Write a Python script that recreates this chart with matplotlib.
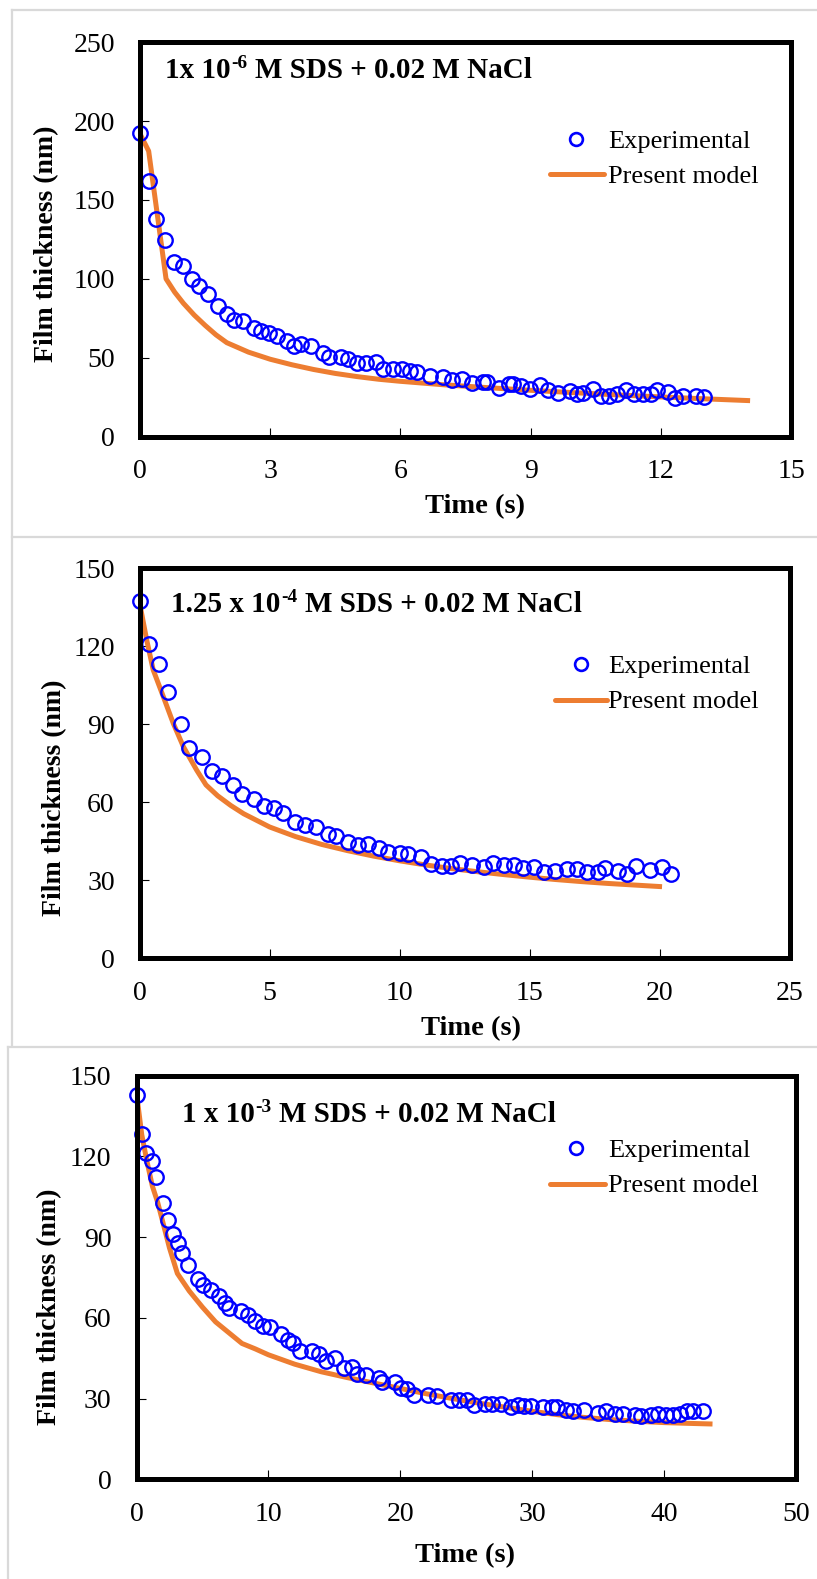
import matplotlib
matplotlib.use("Agg")
import matplotlib.pyplot as plt
from matplotlib.lines import Line2D

plt.rcParams['font.family'] = ['Liberation Serif', 'DejaVu Serif']

# ---------------- data ----------------
# Panel 1: 1x10^-6 M SDS + 0.02 M NaCl
t1 = [0, 0.21, 0.38, 0.58, 0.78, 0.98, 1.19, 1.36, 1.56, 1.8, 2.0, 2.17, 2.38, 2.62, 2.79,
      2.98, 3.16, 3.39, 3.55, 3.72, 3.94, 4.22, 4.36, 4.62, 4.8, 5.01, 5.2, 5.44, 5.6, 5.84,
      6.03, 6.22, 6.39, 6.68, 6.99, 7.2, 7.41, 7.64, 7.9, 8.0, 8.27, 8.5, 8.59, 8.77, 8.98,
      9.21, 9.39, 9.64, 9.9, 10.07, 10.2, 10.43, 10.62, 10.8, 10.98, 11.2, 11.38, 11.59, 11.77,
      11.92, 12.16, 12.33, 12.51, 12.81, 13.0]
h1 = [192.3, 162.3, 137.9, 124.4, 110.4, 107.9, 99.9, 95.3, 90.4, 83, 78, 73.8, 73.1, 68.9, 66.8,
      65.8, 63.6, 60.5, 57.7, 58.4, 57.7, 53.1, 50.6, 50.6, 48.9, 46.8, 46.8, 47.4, 43, 43,
      42.6, 41.5, 40.9, 38.3, 37.7, 35.8, 36.7, 33.7, 34.3, 34.3, 30.6, 33.6, 33, 32.1, 30.1,
      32.7, 29.3, 27.5, 28.6, 26.7, 27.3, 29.9, 26.0, 25.6, 27.1, 29.7, 26.7, 27.1, 27.1,
      29.3, 28.2, 24.5, 26.0, 25.6, 24.9]
tm1 = [0, 0.2, 0.6, 0.8, 1.0, 1.25, 1.5, 1.75, 2.0, 2.5, 3.0, 3.5, 4.0, 4.5, 5.0, 5.5, 6.0,
       7.0, 8.0, 9.0, 10.0, 11.0, 12.0, 13.0, 14.0]
hm1 = [192, 181, 100, 91.5, 84.5, 77, 70.5, 64.5, 59.5, 53.5, 49, 45.5, 42.5, 40, 38, 36.3, 35,
       32.8, 31, 29.3, 27.8, 26.4, 25.1, 23.9, 22.8]

# Panel 2: 1.25x10^-4 M SDS + 0.02 M NaCl
t2 = [0, 0.36, 0.76, 1.1, 1.58, 1.9, 2.39, 2.79, 3.15, 3.59, 3.95, 4.39, 4.79, 5.15, 5.51,
      5.99, 6.36, 6.8, 7.26, 7.56, 8.02, 8.4, 8.8, 9.2, 9.56, 10.02, 10.34, 10.83, 11.19, 11.63,
      11.97, 12.33, 12.79, 13.23, 13.59, 14.0, 14.4, 14.74, 15.18, 15.56, 15.98, 16.44, 16.82,
      17.22, 17.62, 17.92, 18.4, 18.75, 19.09, 19.65, 20.09, 20.43]
h2 = [137.4, 120.7, 113, 102.4, 90, 81, 77.6, 72, 70.2, 66.6, 63.2, 61.3, 58.5, 57.7, 55.9,
      52.6, 51.3, 50.4, 47.8, 47.2, 44.6, 43.6, 44, 42.3, 40.7, 40.4, 40.1, 39.1, 36.2, 35.6,
      35.6, 36.5, 35.9, 35.3, 36.6, 35.9, 36, 34.7, 35, 33, 33.4, 34.3, 34.3,
      33, 33, 34.7, 33.7, 32.4, 35.6, 34.1, 35, 32.6]
tm2 = [0, 0.27, 0.52, 0.91, 1.29, 1.68, 2.19, 2.55, 3.0, 3.5, 4.0, 5.0, 6.0, 7.0, 8.0, 9.0,
       10.0, 11.0, 12.0, 13.0, 14.0, 15.0, 16.0, 17.0, 18.0, 19.0, 20.0]
hm2 = [136.5, 122.4, 110.9, 100.6, 90.4, 81.4, 72.4, 66.7, 62.5, 58.8, 55.6, 50.5, 46.8, 43.8,
       41.4, 39.3, 37.5, 35.9, 34.5, 33.3, 32.2, 31.2, 30.3, 29.5, 28.8, 28.2, 27.6]

# Panel 3: 1x10^-3 M SDS + 0.02 M NaCl
t3 = [0, 0.40, 0.71, 1.19, 1.50, 1.98, 2.37, 2.77, 3.16, 3.48, 3.87, 4.66, 5.06, 5.65, 6.25,
      6.72, 7.04, 7.94, 8.42, 9.01, 9.61, 10.12, 10.99, 11.5, 11.86, 12.37, 13.28, 13.83, 14.35,
      15.06, 15.73, 16.32, 16.72, 17.43, 18.38, 18.62, 19.57, 20.08, 20.55, 21.07, 22.13, 22.77,
      23.83, 24.43, 25.1, 25.61, 26.4, 27.0, 27.67, 28.38, 28.97, 29.37, 29.96, 30.83, 31.54,
      31.86, 32.61, 33.12, 33.91, 35.02, 35.61, 36.28, 36.88, 37.79, 38.26, 39.05, 39.53, 40.16,
      40.71, 41.23, 41.74, 42.21, 43.0]
h3 = [142.8, 128.4, 121.3, 118.1, 112.5, 102.8, 96.4, 91.3, 87.7, 84.2, 79.7, 74.4, 72.2, 70.5,
      68.1, 65.5, 63.5, 62.5, 60.9, 58.9, 57, 56.7, 53.9, 51.6, 50.5, 47.7, 47.7, 46.4, 44.1,
      45.1, 41.2, 41.9, 39.3, 38.9, 37.6, 36.1, 36.1, 34.1, 33.5, 31.2, 31.5, 30.9,
      29.6, 29.6, 29.6, 27.7, 28.1, 28.1, 28.1, 27.0, 27.7, 27.4, 27.3, 26.8, 27.0,
      26.8, 25.7, 25.3, 25.7, 24.7, 25.3, 24.4, 24.4, 24.0, 23.5, 24.0, 24.2, 24.0,
      24.0, 24.2, 25.3, 25.3, 25.3]
tm3 = [0, 0.4, 0.8, 1.2, 1.6, 2.0, 2.5, 3.1, 4, 5, 6, 7, 8, 9, 10, 12, 14, 16, 18, 20, 22, 24,
       26, 28, 30, 32, 34, 36, 38, 40, 42, 43.5]
hm3 = [143.5, 128, 118, 109, 103, 95.5, 86, 76.5, 70, 64, 58.5, 54.5, 50.5, 48.5, 46.3, 42.8,
       40, 37.8, 35.8, 33.8, 31.8, 30, 28.3, 26.8, 25.3, 24, 23, 22.2, 21.6, 21.1, 20.8, 20.6]

xticks1 = [0, 3, 6, 9, 12, 15]
yticks1 = [0, 50, 100, 150, 200, 250]
xticks2 = [0, 5, 10, 15, 20, 25]
yticks2 = [0, 30, 60, 90, 120, 150]
xticks3 = [0, 10, 20, 30, 40, 50]
yticks3 = [0, 30, 60, 90, 120, 150]

title_pre = ["1x 10", "1.25 x 10", "1 x 10"]
title_sup = ["-6", "-4", "-3"]
title_post = ["M SDS + 0.02 M NaCl"] * 3
xlabel = "Time (s)"
ylabel = "Film thickness (nm)"
leg_labels = ["Experimental", "Present model"]

# ---------------- layout ----------------
W, H = 817, 1579
fig = plt.figure(figsize=(W / 100, H / 100), dpi=100)


def fx(p):
    return p / W


def fy(p):
    return 1 - p / H


BLUE = '#0000FF'
ORANGE = '#ED7D31'
GRAY = '#D9D9D9'
MS = 10.4
MEW = 1.7

# panel frames (light gray)
frame_lines = [
    ([11.5, 817], [9.5, 9.5]), ([11.5, 11.5], [9.5, 1045]), ([11.5, 817], [536.5, 536.5]),
    ([8, 817], [1046.5, 1046.5]), ([8, 8], [1046.5, 1579]),
]
for xs, ys in frame_lines:
    fig.add_artist(Line2D([fx(v) for v in xs], [fy(v) for v in ys], color=GRAY, lw=1.6))

panels = [
    dict(t=t1, h=h1, tm=tm1, hm=hm1, xt=xticks1, yt=yticks1,
         box=(140, 42.3, 791, 436.5), title=(165, 78.3), leg=(575.7, 139.3, 174.3, 550, 604),
         ylab=(47, 244), xlab=(474.7, 507)),
    dict(t=t2, h=h2, tm=tm2, hm=hm2, xt=xticks2, yt=yticks2,
         box=(139.7, 568.3, 789.5, 958.3), title=(171, 612), leg=(581, 664.3, 700, 555, 607),
         ylab=(55, 797.5), xlab=(471, 1029)),
    dict(t=t3, h=h3, tm=tm3, hm=hm3, xt=xticks3, yt=yticks3,
         box=(136.5, 1075.6, 795.7, 1479.4), title=(181.7, 1121.7), leg=(575.7, 1148.3, 1183.5, 550, 604.5),
         ylab=(49.5, 1307), xlab=(465, 1556)),
]

fig.canvas.draw()
renderer = fig.canvas.get_renderer()

for i, p in enumerate(panels):
    l, t, r, b = p['box']
    ax = fig.add_axes([fx(l), fy(b), (r - l) / W, (b - t) / H])
    ax.plot(p['tm'], p['hm'], color=ORANGE, lw=3.6, solid_joinstyle='round', zorder=2)
    ax.plot(p['t'], p['h'], 'o', ms=MS, mfc='none', mec=BLUE, mew=MEW, clip_on=False, zorder=3)
    ax.set_xlim(p['xt'][0], p['xt'][-1])
    ax.set_ylim(p['yt'][0], p['yt'][-1])
    ax.set_xticks(p['xt'])
    ax.set_yticks(p['yt'])
    ax.tick_params(direction='in', length=6.5, width=0.8, labelsize=20, colors='black')
    ax.tick_params(axis='y', pad=18)
    ax.tick_params(axis='x', pad=16)
    for sp in ax.spines.values():
        sp.set_linewidth(3.6)
        sp.set_capstyle('projecting')
        sp.set_zorder(4)

    # title with superscript
    tx, ty = p['title']
    size = 21
    a = fig.text(fx(tx), fy(ty), title_pre[i], fontsize=size, fontweight='bold', va='baseline', ha='left')
    bb = a.get_window_extent(renderer)
    sx = bb.x1 + 1
    s = fig.text(sx / W, fy(ty - 10), title_sup[i], fontsize=size * 0.66, fontweight='bold',
                 va='baseline', ha='left')
    bb2 = s.get_window_extent(renderer)
    fig.text((bb2.x1 + 0.25 * size * 100 / 72) / W, fy(ty), title_post[i], fontsize=size,
             fontweight='bold', va='baseline', ha='left')

    # legend (manual)
    mx, my, ly, lx0, lx1 = p['leg']
    fig.add_artist(Line2D([fx(mx)], [fy(my)], marker='o', ms=MS - 1.2, mfc='none', mec=BLUE,
                          mew=MEW + 0.2, lw=0))
    fig.add_artist(Line2D([fx(lx0), fx(lx1)], [fy(ly), fy(ly)], color=ORANGE, lw=3.6,
                          solid_capstyle='round'))
    fig.text(fx(608.5), fy(my), leg_labels[0], fontsize=19, va='center_baseline', ha='left')
    fig.text(fx(608.5), fy(ly), leg_labels[1], fontsize=19, va='center_baseline', ha='left')

    # axis labels
    yx, yy = p['ylab']
    fig.text(fx(yx), fy(yy), ylabel, rotation=90, fontsize=20, fontweight='bold', ha='center', va='center')
    xx, xy = p['xlab']
    fig.text(fx(xx), fy(xy), xlabel, fontsize=20.5, fontweight='bold', ha='center', va='center')

fig.savefig("out.png", dpi=100)
